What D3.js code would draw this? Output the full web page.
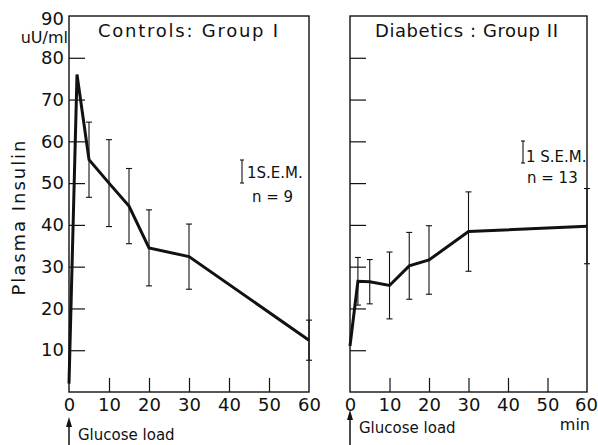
<!DOCTYPE html>
<html>
<head>
<meta charset="utf-8">
<script src="https://cdn.jsdelivr.net/npm/d3@7"></script>
<style>
  body { margin: 0; background: #fff; }
  svg { display: block; font-family: "DejaVu Sans", sans-serif; }
</style>
</head>
<body>
<div id="chart"></div>
<script>
// Datos (minutos tras la carga de glucosa)
const minutos = [0, 2, 5, 10, 15, 20, 30, 60];
const controlesMedia = [2, 76, 55.6, 50, 44.5, 34.5, 32.4, 12.4];
const controlesSEM = [null, null, 9, 10.4, 9, 9.1, 7.8, 4.8];
const diabeticosMedia = [11, 26.5, 26.4, 25.5, 30.2, 31.6, 38.4, 39.7];
const diabeticosSEM = [null, 5.7, 5.3, 8, 8, 8.2, 9.5, 9];
const ticksX = [0, 10, 20, 30, 40, 50, 60];
const ticksY = [10, 20, 30, 40, 50, 60, 70, 80, 90];

const width = 598, height = 445;

const svg = d3.select("#chart").append("svg")
  .attr("width", width)
  .attr("height", height);

// Escala vertical común a los dos paneles
const y = d3.scaleLinear().domain([0, 90]).range([392, 16]);

// Configuración de cada panel
const paneles = [
  { titulo: "Controls: Group I", tx: 98, tl: 180, x0: 69, x1: 309, media: controlesMedia, sem: controlesSEM,
    leyenda: { bx: 242, by0: 160, by1: 183, t1: "1S.E.M.", t1x: 247, t1y: 178, t2: "n = 9", t2x: 252, t2y: 202 },
    etiquetasY: true, glucosa: { x: 69, ty: 440 } },
  { titulo: "Diabetics : Group II", tx: 375, tl: 183, x0: 350, x1: 587, media: diabeticosMedia, sem: diabeticosSEM,
    leyenda: { bx: 523, by0: 141, by1: 163, t1: "1 S.E.M.", t1x: 526, t1y: 162, t2: "n = 13", t2x: 527, t2y: 183 },
    etiquetasY: false, glucosa: { x: 350, ty: 433 } }
];

paneles.forEach((p, k) => {
  const x = d3.scaleLinear().domain([0, 60]).range([p.x0, p.x1]);
  const g = svg.append("g");

  // Marco del panel
  g.append("rect")
    .attr("x", p.x0).attr("y", y(90))
    .attr("width", p.x1 - p.x0).attr("height", y(0) - y(90))
    .attr("fill", "none").attr("stroke", "#111").attr("stroke-width", 1.4);

  // Eje Y con marcas hacia dentro
  const ejeY = g.append("g")
    .attr("transform", `translate(${p.x0},0)`)
    .call(d3.axisLeft(y).tickValues(ticksY).tickSize(-16).tickPadding(5));
  ejeY.select(".domain").remove();
  ejeY.selectAll(".tick line").attr("stroke", "#111").attr("stroke-width", 1.2)
    .filter(d => d === 90).remove();
  ejeY.selectAll("text")
    .attr("font-size", 18).attr("font-family", "DejaVu Sans").attr("fill", "#111")
    .style("display", p.etiquetasY ? null : "none");
  ejeY.selectAll(".tick").filter(d => d === 90).select("text").attr("dy", "0.45em");

  // Eje X con marcas hacia arriba
  const ejeX = g.append("g")
    .attr("transform", `translate(0,${y(0)})`)
    .call(d3.axisBottom(x).tickValues(ticksX).tickSize(-14).tickPadding(6));
  ejeX.select(".domain").remove();
  ejeX.selectAll(".tick line").attr("stroke", "#111").attr("stroke-width", 1.2)
    .filter(d => d === 0 || d === 60).remove();
  ejeX.selectAll("text")
    .attr("font-size", 18).attr("font-family", "DejaVu Sans").attr("fill", "#111")
    .attr("y", 6);
  // El "60" del panel derecho se ajusta al borde de la imagen
  if (k === 1) ejeX.selectAll(".tick").filter(d => d === 60).select("text").attr("dx", -1);

  // Título del panel
  g.append("text")
    .attr("x", p.tx).attr("y", 37)
    .attr("font-size", 18).attr("fill", "#111")
    .attr("textLength", p.tl).attr("lengthAdjust", "spacing")
    .text(p.titulo);

  // Barras de error (1 S.E.M.)
  const puntos = minutos.map((m, i) => ({ m, v: p.media[i], s: p.sem[i] }));
  const conError = puntos.filter(d => d.s != null);
  const barras = g.selectAll(".err").data(conError).enter().append("g").attr("class", "err")
    .attr("stroke", "#111").attr("stroke-width", 1.1);
  barras.append("line")
    .attr("x1", d => x(d.m)).attr("x2", d => x(d.m))
    .attr("y1", d => y(d.v + d.s)).attr("y2", d => y(d.v - d.s));
  barras.append("line")
    .attr("x1", d => x(d.m) - 3).attr("x2", d => x(d.m) + 3)
    .attr("y1", d => y(d.v + d.s)).attr("y2", d => y(d.v + d.s));
  barras.append("line")
    .attr("x1", d => x(d.m) - 3).attr("x2", d => x(d.m) + 3)
    .attr("y1", d => y(d.v - d.s)).attr("y2", d => y(d.v - d.s));

  // Curva de insulina
  g.append("path")
    .datum(puntos)
    .attr("fill", "none").attr("stroke", "#111").attr("stroke-width", 3)
    .attr("stroke-linejoin", "miter")
    .attr("d", d3.line().x(d => x(d.m)).y(d => y(d.v)));

  // Leyenda 1 S.E.M.
  const l = p.leyenda;
  const ley = g.append("g").attr("stroke", "#111").attr("stroke-width", 1.1);
  ley.append("line").attr("x1", l.bx).attr("x2", l.bx).attr("y1", l.by0).attr("y2", l.by1);
  ley.append("line").attr("x1", l.bx - 2).attr("x2", l.bx + 2).attr("y1", l.by0).attr("y2", l.by0);
  ley.append("line").attr("x1", l.bx - 2).attr("x2", l.bx + 2).attr("y1", l.by1).attr("y2", l.by1);
  g.append("text").attr("x", l.t1x).attr("y", l.t1y).attr("font-size", 15).attr("fill", "#111").text(l.t1);
  g.append("text").attr("x", l.t2x).attr("y", l.t2y).attr("font-size", 15).attr("fill", "#111").text(l.t2);

  // Flecha "Glucose load"
  const gl = p.glucosa;
  g.append("line")
    .attr("x1", gl.x).attr("x2", gl.x).attr("y1", gl.ty - 18).attr("y2", 445)
    .attr("stroke", "#111").attr("stroke-width", 1.5);
  g.append("path")
    .attr("d", `M${gl.x},${gl.ty - 23} L${gl.x - 3},${gl.ty - 13} L${gl.x + 3},${gl.ty - 13} Z`)
    .attr("fill", "#111");
  g.append("text")
    .attr("x", gl.x + 9).attr("y", gl.ty)
    .attr("font-size", 15).attr("fill", "#111")
    .text("Glucose load");
});

// Unidad y etiqueta del eje Y
svg.append("text")
  .attr("x", 68).attr("y", 43)
  .attr("text-anchor", "end")
  .attr("font-size", 16).attr("fill", "#111")
  .text("uU/ml");

svg.append("text")
  .attr("transform", "translate(25,218) rotate(-90)")
  .attr("text-anchor", "middle")
  .attr("font-size", 18).attr("fill", "#111")
  .attr("textLength", 155).attr("lengthAdjust", "spacing")
  .text("Plasma Insulin");

// Unidad del eje X
svg.append("text")
  .attr("x", 590).attr("y", 430)
  .attr("text-anchor", "end")
  .attr("font-size", 16).attr("fill", "#111")
  .text("min");
</script>
</body>
</html>
